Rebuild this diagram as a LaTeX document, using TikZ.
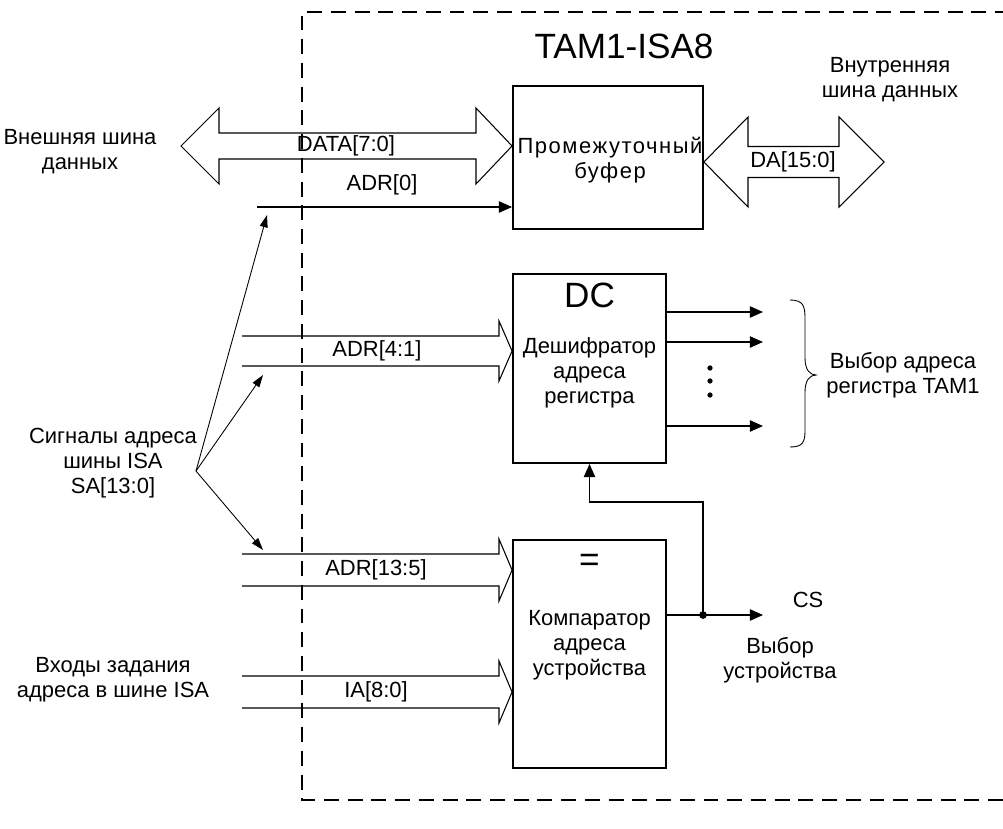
\documentclass[tikz,border=0pt]{standalone}
\usepackage{fontspec}
\setmainfont{Liberation Sans}
\newfontfamily\widefont[LetterSpace=7]{Liberation Sans}
\usepackage{tikz}
\usetikzlibrary{arrows.meta}
\usetikzlibrary{positioning}

\tikzset{
  blk/.style={draw, line width=1.1pt, inner sep=0pt, minimum width=3.06cm},
  txt/.style={font=\fontsize{12.5}{14.2}\selectfont, align=center, inner sep=0pt},
  bigtxt/.style={font=\fontsize{20}{23}\selectfont, inner sep=0pt},
  sig/.style={line width=0.6pt, -{Triangle[length=7.5pt,width=6.5pt]}},
  fan/.style={line width=0.5pt, -{Triangle[length=7pt,width=4.5pt]}},
  bus/.style={line width=0.6pt},
  frame/.style={line width=1.3pt, dash pattern=on 8.5pt off 5pt},
}

\begin{document}
\begin{tikzpicture}[x=0.02cm, y=-0.02cm]
  \useasboundingbox (0,0) rectangle (1003,828);

  % board border
  \draw[frame] (1010,12) -- (302,12) -- (302,800) -- (1010,800);
  \node[bigtxt] (title) at (624,46) {TAM1-ISA8};

  % blocks
  \node[blk, minimum width=3.8cm, minimum height=2.86cm] (buf) at (608,157.5) {};
  \node[txt, font=\fontsize{12.5}{14.2}\widefont] (buftxt) at (610,160) {Промежуточный\\буфер};

  \node[blk, minimum height=3.78cm] (dc) at (589.5,368.5) {};
  \node[bigtxt] (dcname) at (589.5,295) {DC};
  \node[txt] (dctxt) at (589.5,373) {Дешифратор\\адреса\\регистра};

  \node[blk, minimum height=4.56cm] (cmp) at (589.5,654) {};
  \node[bigtxt] (cmpname) at (589.5,563) {=};
  \node[txt] (cmptxt) at (589.5,645) {Компаратор\\адреса\\устройства};

  % data buses
  \coordinate (dL) at (181,146);
  \coordinate (dR) at (buf.west |- dL);
  \draw[bus] (dL) -- (219,108) -- (219,133) -- (476,133) -- (476,108) -- (dR)
    -- (476,184) -- (476,159) -- (219,159) -- (219,184) -- cycle;
  \node[txt] (datalbl) at (346,146) {DATA[7:0]};
  \node[txt] (extbus) at (80,152) {Внешняя шина\\данных};

  \coordinate (daL) at (buf.east |- 0,162);
  \draw[bus] (daL) -- (748,117) -- (748,146.5) -- (839,146.5) -- (839,117) -- (884,162)
    -- (839,207) -- (839,177.5) -- (748,177.5) -- (748,207) -- cycle;
  \node[txt] (dalbl) at (793,162) {DA[15:0]};
  \node[txt] (intbus) at (890,80) {Внутренняя\\шина данных};

  % address inputs
  \coordinate (a0) at (257,207);
  \draw[sig] (a0) -- (buf.west |- a0);
  \node[txt] (a0lbl) at (382,185) {ADR[0]};

  \coordinate (a41) at (dc.west |- 0,351);
  \draw[bus] (242,336) -- (499,336) -- (499,321) -- (a41) -- (499,381) -- (499,366) -- (242,366);
  \node[txt] (a41lbl) at (377,351) {ADR[4:1]};

  \coordinate (a135) at (cmp.west |- 0,570);
  \draw[bus] (242,554) -- (499,554) -- (499,539) -- (a135) -- (499,601) -- (499,586) -- (242,586);
  \node[txt] (a135lbl) at (376,570) {ADR[13:5]};

  \coordinate (ia) at (cmp.west |- 0,692);
  \draw[bus] (242,676) -- (499,676) -- (499,661) -- (ia) -- (499,723) -- (499,708) -- (242,708);
  \node[txt] (ialbl) at (376,692) {IA[8:0]};
  \node[txt] (iatxt) at (113,680) {Входы задания\\адреса в шине ISA};

  % ISA address fan
  \node[txt] (sa) at (113,463) {Сигналы адреса\\шины ISA\\SA[13:0]};
  \coordinate (fan) at (196,471);
  \foreach \p in {(267,215),(263,375),(263,550)}
    \draw[fan] (fan) -- \p;

  % decoder outputs
  \foreach \y in {312,342,426}
    \draw[sig] (dc.east |- 0,\y) -- (763,\y);
  \foreach \y in {368,381,395}
    \fill (710,\y) circle[radius=1.5pt];
  \draw[line width=0.5pt] (790,300) .. controls (803,300) and (805,306) .. (805,318) -- (805,358)
    .. controls (805,370) and (810,375) .. (816,375)
    .. controls (810,375) and (805,380) .. (805,392) -- (805,430)
    .. controls (805,442) and (803,447) .. (790,447);
  \node[txt] (regsel) at (903,375) {Выбор адреса\\регистра TAM1};

  % chip select
  \coordinate (jn) at (703,615);
  \draw[line width=0.6pt] (cmp.east |- jn) -- (jn);
  \draw[sig] (jn) -- (763,615);
  \draw[sig] (jn) -- (703,502) -- (dc.south |- 0,502) -- (dc.south);
  \fill (jn) circle[radius=2.2pt];
  \node[txt] (cs) at (808,600) {CS};
  \node[txt] (devsel) at (780,660) {Выбор\\устройства};
\end{tikzpicture}
\end{document}
